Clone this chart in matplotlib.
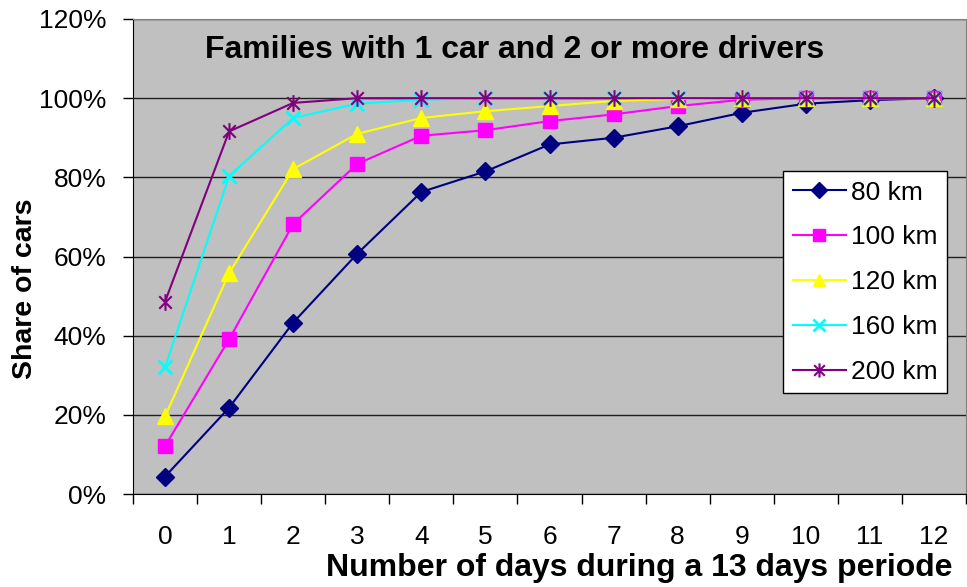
import matplotlib
matplotlib.use("Agg")
import matplotlib.pyplot as plt
from matplotlib.ticker import FuncFormatter, FixedLocator
from matplotlib.path import Path

days = list(range(13))
km80 = [4.4, 21.8, 43.3, 60.7, 76.3, 81.5, 88.3, 90.0, 92.9, 96.3, 98.6, 99.5, 100.0]
km100 = [12.1, 39.1, 68.2, 83.4, 90.5, 91.9, 94.2, 95.9, 98.0, 99.6, 100.0, 100.0, 100.0]
km120 = [19.6, 55.8, 82.1, 91.0, 95.0, 96.7, 98.0, 99.3, 99.8, 100.0, 100.0, 100.0, 100.0]
km160 = [32.0, 80.3, 95.0, 98.6, 99.6, 100.0, 100.0, 100.0, 100.0, 100.0, 100.0, 100.0, 100.0]
km200 = [48.6, 91.6, 98.8, 100.0, 100.0, 100.0, 100.0, 100.0, 100.0, 100.0, 100.0, 100.0, 100.0]
labels = ["80 km", "100 km", "120 km", "160 km", "200 km"]
title = "Families with 1 car and 2 or more drivers"
xlabel = "Number of days during a 13 days periode"
ylabel = "Share of cars"

plt.rcParams['font.family'] = ['Liberation Sans', 'DejaVu Sans']

# Excel-style star marker: vertical bar plus an X
star = Path([(0, -1), (0, 1), (-0.75, -0.75), (0.75, 0.75), (-0.75, 0.75), (0.75, -0.75)],
            [Path.MOVETO, Path.LINETO, Path.MOVETO, Path.LINETO, Path.MOVETO, Path.LINETO])

fig = plt.figure(figsize=(9.67, 5.87), dpi=100)
ax = fig.add_axes([133/967, 1-494/587, 833/967, 475/587])
ax.set_facecolor('#C0C0C0')

lw = 1.5
ax.plot(days, km80, color='#000080', marker='D', markersize=9, lw=lw, label=labels[0], zorder=3)
ax.plot(days, km100, color='#FF00FF', marker='s', markersize=10, lw=lw, label=labels[1], zorder=3)
ax.plot(days, km120, color='#FFFF00', marker='^', markersize=11, lw=lw, label=labels[2], zorder=3)
ax.plot(days, km160, color='#00FFFF', marker='x', markersize=10, mew=2, lw=lw, label=labels[3], zorder=3)
ax.plot(days, km200, color='#800080', marker=star, markersize=12, mew=1.5, mfc='none',
        lw=lw, label=labels[4], zorder=3)

ax.set_xlim(-0.5, 12.5)
ax.set_ylim(0, 120)
ax.set_yticks(range(0, 121, 20))
ax.yaxis.set_major_formatter(FuncFormatter(lambda v, p: f"{int(v)}%"))
ax.set_xticks(days)
ax.set_xticklabels([str(d) for d in days])
ax.xaxis.set_minor_locator(FixedLocator([d - 0.5 for d in range(14)]))
ax.tick_params(axis='x', which='major', length=0, pad=22, labelsize=19)
ax.tick_params(axis='x', which='minor', length=7, width=1, direction='out')
ax.tick_params(axis='y', length=7, width=1, direction='out', labelsize=19, pad=12)
ax.grid(axis='y', color='#202020', lw=1)
ax.set_axisbelow(True)
for s in ['top', 'right']:
    ax.spines[s].set_color('#808080')
ax.spines['left'].set_color('black')
ax.spines['bottom'].set_color('black')

ax.text((515-133)/833, (494-50)/475, title, transform=ax.transAxes, ha='center', va='center',
        fontsize=23, fontweight='bold')
fig.text(952/967, 1-568/587, xlabel, ha='right', va='center', fontsize=23, fontweight='bold')
fig.text(25/967, 1-289/587, ylabel, ha='center', va='center', rotation=90, fontsize=20.5, fontweight='bold')

leg = ax.legend(loc='upper right', bbox_to_anchor=((947-133)/833, (494-171)/475), fontsize=19,
                frameon=True, fancybox=False, edgecolor='black', facecolor='white',
                framealpha=1, labelspacing=0.79, handlelength=2.0, handletextpad=0.2,
                borderpad=0.36, borderaxespad=0, markerscale=0.85)
leg.get_frame().set_linewidth(1)

fig.savefig('out.png', dpi=100)
